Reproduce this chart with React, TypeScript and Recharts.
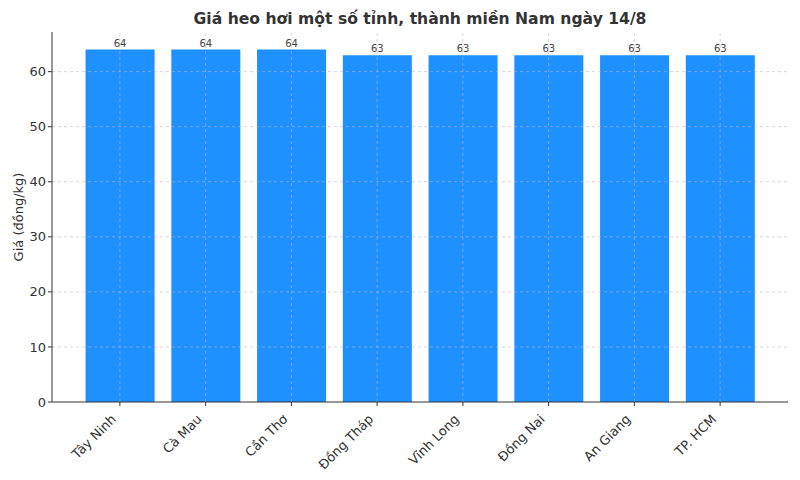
// Bar chart of live hog prices across southern provinces on 14/8.
import { BarChart, Bar, XAxis, YAxis, ReferenceLine, LabelList } from "recharts";

const provinces = [
  "Tây Ninh",
  "Cà Mau",
  "Cần Thơ",
  "Đồng Tháp",
  "Vĩnh Long",
  "Đồng Nai",
  "An Giang",
  "TP. HCM",
];
const prices = [64, 64, 64, 63, 63, 63, 63, 63];
const yTicks = [0, 10, 20, 30, 40, 50, 60];

const data = provinces.map((name, i) => ({ name, price: prices[i] }));

const FONT = "DejaVu Sans, sans-serif";
const GRID = { stroke: "#b8b8b8", strokeDasharray: "3 3", strokeOpacity: 0.7, strokeWidth: 0.8 };

const RotatedTick = (props: any) => {
  const { x, y, payload } = props;
  return (
    <g transform={`translate(${x - 3},${y + 12})`}>
      <text transform="rotate(-45)" textAnchor="end" fontSize={13} fill="#333" fontFamily={FONT}>
        {payload.value}
      </text>
    </g>
  );
};

export default function App() {
  return (
    <div style={{ position: "absolute", left: 0, top: 0, width: 800, height: 480, background: "#fff" }}>
      <div
        style={{
          position: "absolute",
          left: 52,
          width: 736,
          top: 10,
          textAlign: "center",
          fontFamily: FONT,
          fontWeight: "bold",
          fontSize: 15.6,
          color: "#333",
        }}
      >
        Giá heo hơi một số tỉnh, thành miền Nam ngày 14/8
      </div>
      <BarChart
        width={800}
        height={480}
        data={data}
        margin={{ top: 32, right: 12, bottom: 0, left: 18 }}
        barCategoryGap="10%"
      >
        <Bar dataKey="price" fill="#1E90FF" isAnimationActive={false}>
          <LabelList dataKey="price" position="top" offset={3} fontSize={10} fill="#444" fontFamily={FONT} />
        </Bar>
        {yTicks.slice(1).map((t) => (
          <ReferenceLine key={`y${t}`} y={t} {...GRID} />
        ))}
        {provinces.map((p) => (
          <ReferenceLine key={`x${p}`} x={p} {...GRID} />
        ))}
        <XAxis
          dataKey="name"
          interval={0}
          padding={{ left: 25, right: 25 }}
          height={78}
          tick={<RotatedTick />}
          tickSize={4}
          axisLine={{ stroke: "#333" }}
          tickLine={{ stroke: "#333" }}
        />
        <YAxis
          domain={[0, 67.2]}
          ticks={yTicks}
          width={34}
          tickSize={4}
          tick={{ fontSize: 13, fill: "#333", fontFamily: FONT }}
          axisLine={{ stroke: "#333" }}
          tickLine={{ stroke: "#333" }}
          label={{
            value: "Giá (đồng/kg)",
            angle: -90,
            position: "insideLeft",
            offset: 0,
            style: { textAnchor: "middle", fontSize: 13, fill: "#333", fontFamily: FONT },
          }}
        />
      </BarChart>
    </div>
  );
}
